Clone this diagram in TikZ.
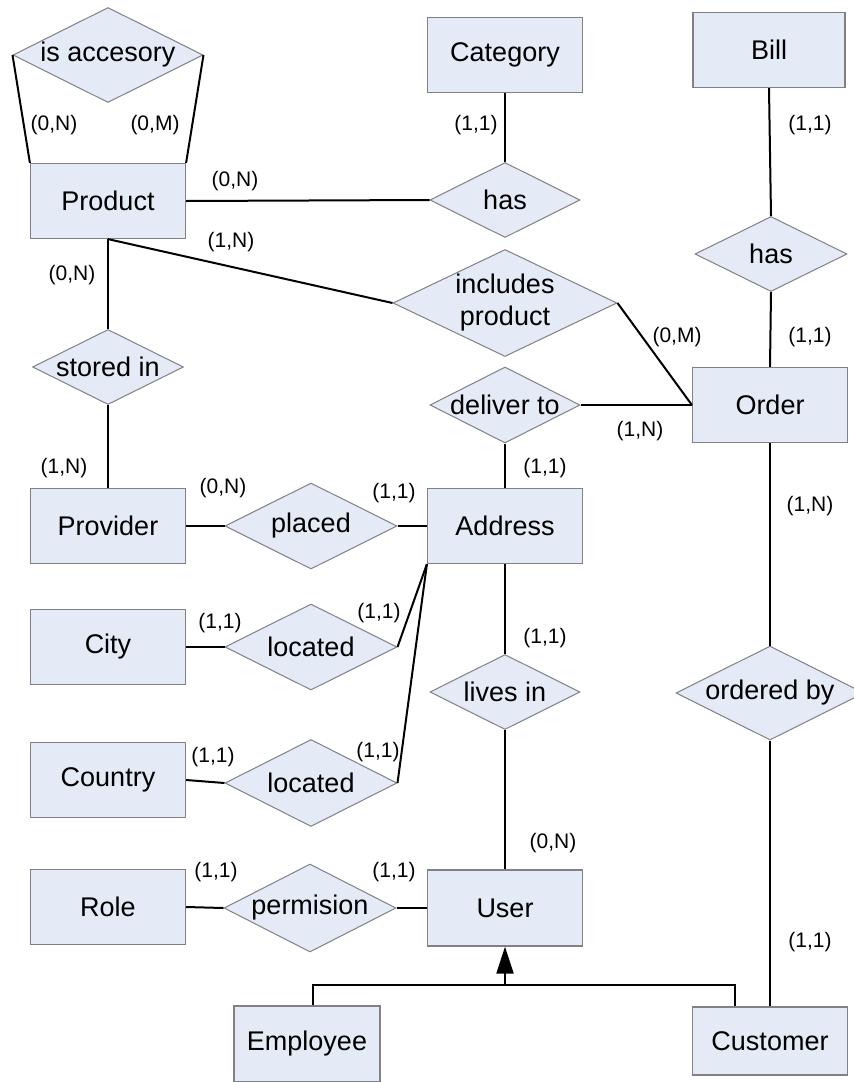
\documentclass[tikz,border=0pt]{standalone}
\usepackage{fontspec}
\setmainfont{Liberation Sans}
\usetikzlibrary{shapes.geometric,arrows.meta}

\definecolor{boxfill}{RGB}{228,234,246}
\definecolor{boxline}{RGB}{128,128,134}

\tikzset{
  entity/.style={rectangle, draw=boxline, fill=boxfill, line width=1.2pt,
    minimum width=155pt, minimum height=75pt, inner sep=0pt,
    font=\fontsize{27}{32}\selectfont},
  relation/.style={diamond, draw=boxline, fill=boxfill, line width=1pt, inner sep=0pt},
  reltext/.style={font=\fontsize{27}{32}\selectfont, align=center, inner sep=0pt},
  card/.style={font=\fontsize{21}{24}\selectfont, inner sep=0pt},
  link/.style={line width=2pt, black},
  isa/.style={line width=2pt, black, -{Triangle[length=27pt,width=17pt]}}
}

% relationship: name, centre, width, height, text
\newcommand\relnode[5]{%
  \node[relation, minimum width=#3pt, minimum height=#4pt] (#1) at #2 {};
  \node[reltext] (#1-t) at (#1.center) {#5};}

\begin{document}
\begin{tikzpicture}[x=1pt, y=-1pt]
\useasboundingbox (0,0) rectangle (854,1082);

% entities
\node[entity] (category) at (505,55)  {Category};
\node[entity, minimum width=152pt] (bill) at (769,50) {Bill};
\node[entity] (product)  at (108,201) {Product};
\node[entity] (order)    at (770,405) {Order};
\node[entity] (provider) at (108,526) {Provider};
\node[entity] (address)  at (505,526) {Address};
\node[entity] (city)     at (108,647) {City};
\node[entity] (country)  at (108,780) {Country};
\node[entity] (role)     at (108,907) {Role};
\node[entity, minimum height=76pt] (user) at (505,908) {User};
\node[entity, minimum width=146pt, minimum height=76pt] (employee) at (307,1044) {Employee};
\node[entity, minimum height=68pt] (customer) at (770,1041) {Customer};

% relationships
\relnode{isacc}{(108,55)}{190}{95}{is accesory}
\relnode{hascat}{(505,200)}{150}{75}{has}
\relnode{hasbill}{(771,254)}{152}{75}{has}
\relnode{incl}{(505,303)}{224}{107}{includes\\product}
\relnode{stored}{(108,367)}{151}{75}{stored in}
\relnode{deliver}{(505,405)}{150}{76}{deliver to}
\relnode{placed}{(311,526)}{172}{86}{placed}
\relnode{locA}{(311,647)}{172}{86}{located}
\relnode{locB}{(311,783)}{172}{87}{located}
\relnode{lives}{(505,692)}{150}{75}{lives in}
\relnode{perm}{(310,908)}{172}{88}{permision}
\relnode{ordby}{(770,693)}{188}{94}{ordered by}

% connectors
\draw[link] (isacc.west) -- (product.north west);
\draw[link] (isacc.east) -- (product.north east);
\draw[link] (product.east) -- (hascat.west);
\draw[link] (hascat.north) -- (category.south);
\draw[link] (product.south) -- (incl.west);
\draw[link] (incl.east) -- (order.west);
\draw[link] (deliver.east) -- (order.west);
\draw[link] (product.south) -- (stored.north);
\draw[link] (stored.south) -- (provider.north);
\draw[link] (provider.east) -- (placed.west);
\draw[link] (placed.east) -- (address.west);
\draw[link] (address.south west) -- (locA.east);
\draw[link] (address.south west) -- (locB.east);
\draw[link] (city.east) -- (locA.west);
\draw[link] (country.east) -- (locB.west);
\draw[link] (deliver.south) -- (address.north);
\draw[link] (address.south) -- (lives.north);
\draw[link] (lives.south) -- (user.north);
\draw[link] (role.east) -- (perm.west);
\draw[link] (perm.east) -- (user.west);
\draw[link] (bill.south) -- (hasbill.north);
\draw[link] (hasbill.south) -- (order.north);
\draw[link] (order.south) -- (ordby.north);
\draw[link] (ordby.south) -- (customer.north -| ordby.south);

% specialisation of User
\coordinate (fork) at (505,985);
\coordinate (empTop) at (313,985);
\coordinate (cusTop) at (735,985);
\draw[link] (employee.north -| empTop) -- (empTop) -- (cusTop) -- (customer.north -| cusTop);
\draw[isa] (fork) -- (user.south);

% cardinalities
\node[card] (c1)  at (54,125)  {(0,N)};
\node[card] (c2)  at (155,125) {(0,M)};
\node[card] (c3)  at (476,125) {(1,1)};
\node[card] (c4)  at (235,181) {(0,N)};
\node[card] (c5)  at (231,242) {(1,N)};
\node[card] (c6)  at (72,275)  {(0,N)};
\node[card] (c7)  at (810,125) {(1,1)};
\node[card] (c8)  at (810,337) {(1,1)};
\node[card] (c9)  at (677,337) {(0,M)};
\node[card] (c10) at (640,431) {(1,N)};
\node[card] (c11) at (64,468)  {(1,N)};
\node[card] (c12) at (223,488) {(0,N)};
\node[card] (c13) at (394,493) {(1,1)};
\node[card] (c14) at (545,468) {(1,1)};
\node[card] (c15) at (810,506) {(1,N)};
\node[card] (c16) at (220,623) {(1,1)};
\node[card] (c17) at (379,613) {(1,1)};
\node[card] (c18) at (545,638) {(1,1)};
\node[card] (c19) at (213,757) {(1,1)};
\node[card] (c20) at (378,752) {(1,1)};
\node[card] (c21) at (553,843) {(0,N)};
\node[card] (c22) at (216,872) {(1,1)};
\node[card] (c23) at (394,872) {(1,1)};
\node[card] (c24) at (810,942) {(1,1)};
\end{tikzpicture}
\end{document}
